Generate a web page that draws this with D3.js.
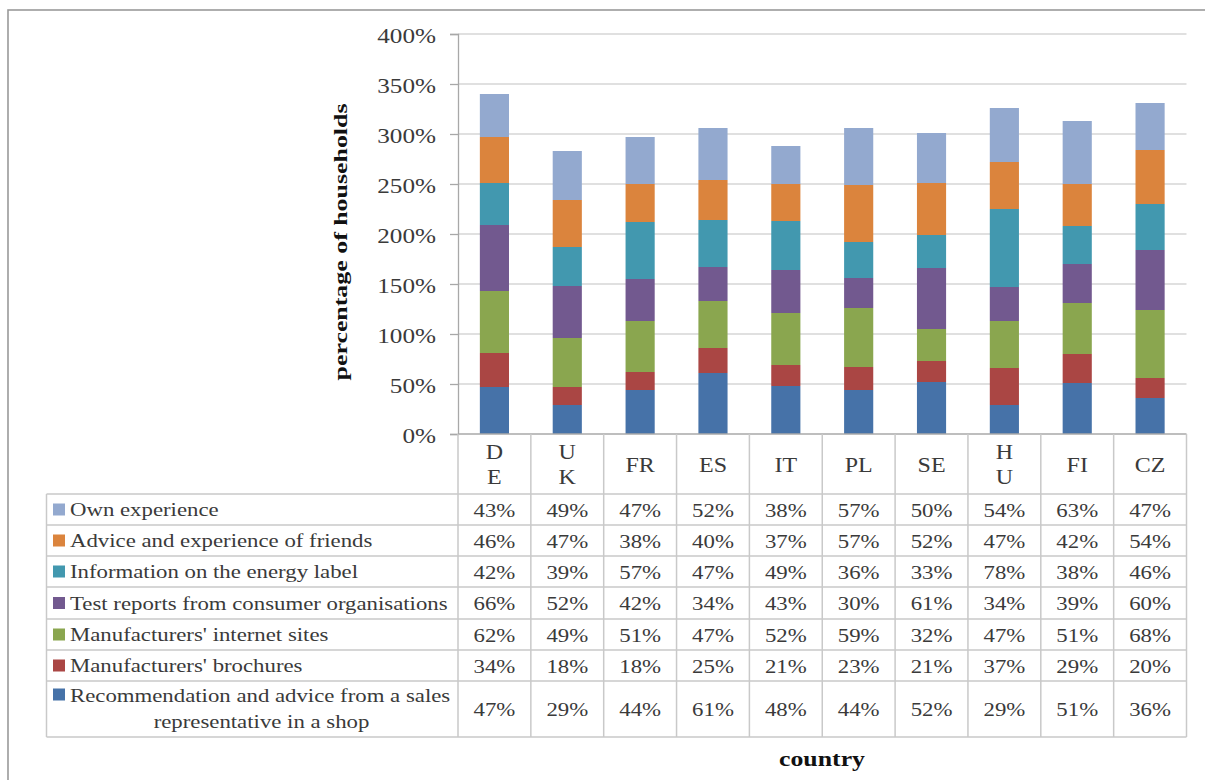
<!DOCTYPE html>
<html>
<head>
<meta charset="utf-8">
<script src="https://cdn.jsdelivr.net/npm/d3@7"></script>
<style>
  html, body { margin: 0; padding: 0; background: #fff; }
  svg { display: block; font-family: "Liberation Serif", "Times New Roman", serif; }
</style>
</head>
<body>
<svg id="chart" width="1205" height="780"></svg>
<script>
// ---- Data (bottom of stack first) ----
const countries = ["DE", "UK", "FR", "ES", "IT", "PL", "SE", "HU", "FI", "CZ"];
const wrappedCountries = ["DE", "UK", "HU"]; // shown one letter per line in the table header
const seriesNames = [
  "Recommendation and advice from a sales representative in a shop",
  "Manufacturers' brochures",
  "Manufacturers' internet sites",
  "Test reports from consumer organisations",
  "Information on the energy label",
  "Advice and experience of friends",
  "Own experience"
];
const recommendation = [47, 29, 44, 61, 48, 44, 52, 29, 51, 36];
const brochures      = [34, 18, 18, 25, 21, 23, 21, 37, 29, 20];
const internetSites  = [62, 49, 51, 47, 52, 59, 32, 47, 51, 68];
const testReports    = [66, 52, 42, 34, 43, 30, 61, 34, 39, 60];
const energyLabel    = [42, 39, 57, 47, 49, 36, 33, 78, 38, 46];
const friends        = [46, 47, 38, 40, 37, 57, 52, 47, 42, 54];
const ownExperience  = [43, 49, 47, 52, 38, 57, 50, 54, 63, 47];
const yTicks = [0, 50, 100, 150, 200, 250, 300, 350, 400];
const colors = ["#4672A8", "#AA4644", "#8AA64F", "#72598F", "#4298AF", "#DB843D", "#93A9CF"];

const seriesValues = [recommendation, brochures, internetSites, testReports, energyLabel, friends, ownExperience];
const rows = countries.map((c, i) => {
  const r = { country: c };
  seriesNames.forEach((s, k) => r[s] = seriesValues[k][i]);
  return r;
});

// ---- Layout ----
const SX = 1.2; // horizontal stretch of the reference typography
const svg = d3.select("#chart");
const plotLeft = 458, plotRight = 1186.5, plotTop = 34, plotBottom = 434;
const tableLeft = 46.5;
const textColor = "#3a3a3a";

// outer frame
svg.append("rect").attr("x", 8).attr("y", 10).attr("width", 1220).attr("height", 800)
  .attr("fill", "none").attr("stroke", "#9a9a9a").attr("stroke-width", 1.6);

const y = d3.scaleLinear().domain([0, 400]).range([plotBottom, plotTop]);
const x = d3.scaleBand().domain(countries).range([plotLeft, plotRight]).paddingInner(0.6).paddingOuter(0.3);
const col = d3.scaleBand().domain(countries).range([plotLeft, plotRight]).padding(0);

// gridlines
svg.append("g").selectAll("line").data(yTicks.filter(t => t > 0)).join("line")
  .attr("x1", plotLeft).attr("x2", plotRight)
  .attr("y1", d => y(d)).attr("y2", d => y(d))
  .attr("stroke", "#d6d6d6").attr("stroke-width", 1.6);

// stacked bars
const stack = d3.stack().keys(seriesNames)(rows);
svg.append("g").selectAll("g").data(stack).join("g")
  .attr("fill", (d, i) => colors[i])
  .selectAll("rect").data(d => d).join("rect")
  .attr("x", d => x(d.data.country))
  .attr("width", x.bandwidth())
  .attr("y", d => y(d[1]))
  .attr("height", d => y(d[0]) - y(d[1]));

// y axis
const yAxis = svg.append("g").attr("transform", `translate(${plotLeft},0)`)
  .call(d3.axisLeft(y).tickValues(yTicks).tickSize(8).tickFormat(d => d + "%"));
yAxis.select(".domain").attr("stroke", "#a8a8a8").attr("stroke-width", 1.3);
yAxis.selectAll(".tick line").attr("stroke", "#a8a8a8").attr("stroke-width", 1.3);
yAxis.selectAll(".tick text")
  .attr("x", 0).attr("dy", "0.35em")
  .attr("transform", `translate(-22,1) scale(${SX},1)`)
  .attr("font-size", 21).attr("fill", textColor)
  .attr("font-family", "Liberation Serif, Times New Roman, serif");

// y axis title
svg.append("text")
  .attr("transform", `translate(347,242) rotate(-90)`)
  .attr("text-anchor", "middle")
  .attr("font-size", 19).attr("font-weight", "bold").attr("fill", "#111")
  .attr("textLength", 277).attr("lengthAdjust", "spacingAndGlyphs")
  .text("percentage of households");

// ---- Data table ----
const tableLineColor = "#c9c9c9";
const headerBottom = 494;
const rowHeights = [31, 31, 31, 32, 31, 31, 56];
const rowTops = [];
let acc = headerBottom;
rowHeights.forEach(h => { rowTops.push(acc); acc += h; });
const tableBottom = acc;
const tg = svg.append("g");

// horizontal lines
tg.append("line").attr("x1", plotLeft).attr("x2", plotRight).attr("y1", plotBottom).attr("y2", plotBottom)
  .attr("stroke", "#a8a8a8").attr("stroke-width", 1.3);
tg.selectAll("line.h").data(rowTops.concat([tableBottom])).join("line").attr("class", "h")
  .attr("x1", tableLeft).attr("x2", plotRight)
  .attr("y1", d => d).attr("y2", d => d)
  .attr("stroke", tableLineColor).attr("stroke-width", 1.5);
// vertical lines
const vxs = countries.map(c => col(c)).concat([plotRight]);
tg.selectAll("line.v").data(vxs).join("line").attr("class", "v")
  .attr("x1", d => d).attr("x2", d => d)
  .attr("y1", plotBottom).attr("y2", tableBottom)
  .attr("stroke", tableLineColor).attr("stroke-width", 1.5);
tg.append("line").attr("x1", tableLeft).attr("x2", tableLeft).attr("y1", headerBottom).attr("y2", tableBottom)
  .attr("stroke", tableLineColor).attr("stroke-width", 1.5);

function htext(sel, px, py, str, opts) {
  return sel.append("text")
    .attr("transform", `translate(${px},${py}) scale(${SX},1)`)
    .attr("text-anchor", opts.anchor || "middle")
    .attr("dy", opts.dy || "0.35em")
    .attr("font-size", opts.size || 19)
    .attr("font-weight", opts.weight || "normal")
    .attr("fill", opts.fill || textColor)
    .text(str);
}

// header: country labels
countries.forEach(c => {
  const cx = col(c) + col.bandwidth() / 2;
  if (wrappedCountries.includes(c)) {
    htext(tg, cx, 451.5, c[0], { size: 20 });
    htext(tg, cx, 477, c[1], { size: 20 });
  } else {
    htext(tg, cx, 464.5, c, { size: 20 });
  }
});

// table rows: top row is the top of the stack
const tableOrder = d3.range(seriesNames.length).reverse();
tableOrder.forEach((k, r) => {
  const top = rowTops[r], h = rowHeights[r];
  const cy = top + h / 2;
  const name = seriesNames[k];
  const isWrapped = h > 40;
  const keyY = isWrapped ? top + 7.5 : cy - 6;
  tg.append("rect").attr("x", 53).attr("y", keyY).attr("width", 12).attr("height", 12).attr("fill", colors[k]);
  if (isWrapped) {
    const cut = name.indexOf(" representative");
    htext(tg, 70, top + 14.5, name.slice(0, cut), { anchor: "start" });
    htext(tg, 261.5, top + 40.5, name.slice(cut + 1), { anchor: "middle" });
  } else {
    htext(tg, 70, cy, name, { anchor: "start" });
  }
  countries.forEach((c, i) => {
    htext(tg, col(c) + col.bandwidth() / 2, cy + 0.5, seriesValues[k][i] + "%", { size: 19 });
  });
});

// x axis title
htext(svg, 822, 758, "country", { size: 21.5, weight: "bold", fill: "#111" });
</script>
</body>
</html>
